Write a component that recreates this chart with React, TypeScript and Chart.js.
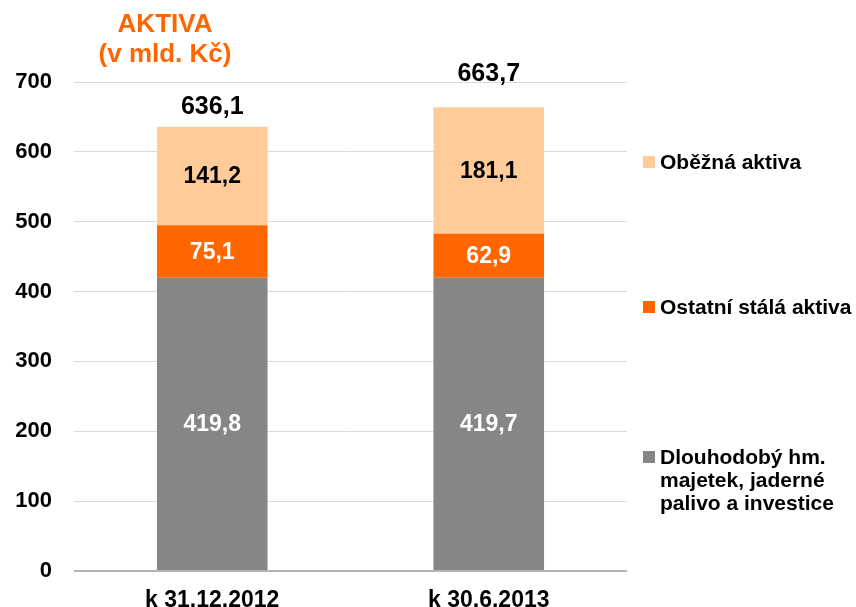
import React, { useEffect, useRef } from "react";
import { Chart, registerables } from "chart.js";

Chart.register(...registerables);

const categories = ["k 31.12.2012", "k 30.6.2013"];
const dlouhodoby = [419.8, 419.7];
const ostatni = [75.1, 62.9];
const obezna = [141.2, 181.1];
const totals = [636.1, 663.7];
const yTicks = [0, 100, 200, 300, 400, 500, 600, 700];
const seriesNames = ["Dlouhodobý hm. majetek, jaderné palivo a investice", "Ostatní stálá aktiva", "Oběžná aktiva"];
const legendLines = [["Oběžná aktiva"], ["Ostatní stálá aktiva"], ["Dlouhodobý hm.", "majetek, jaderné", "palivo a investice"]];

const C_GRAY = "#868686";
const C_ORANGE = "#FF6600";
const C_LIGHT = "#FFCC99";
const FONT = "'Liberation Sans', Arial, sans-serif";

const fmt = (v: number) => v.toFixed(1).replace(".", ",");

const labelsPlugin = {
  id: "customLabels",
  afterDatasetsDraw(chart: any) {
    const ctx = chart.ctx;
    ctx.save();
    ctx.textAlign = "center";
    ctx.textBaseline = "middle";
    ctx.font = `bold 23px ${FONT}`;
    const textColors = ["#FFFFFF", "#FFFFFF", "#000000"];
    chart.data.datasets.forEach((ds: any, di: number) => {
      const meta = chart.getDatasetMeta(di);
      meta.data.forEach((bar: any, i: number) => {
        const { x, y, base } = bar.getProps(["x", "y", "base"], true);
        ctx.fillStyle = textColors[di];
        ctx.fillText(fmt(ds.data[i]), x, (y + base) / 2 + 1);
      });
    });
    // totals
    const yScale = chart.scales.y;
    const offsets = [20, 33];
    ctx.font = `bold 25px ${FONT}`;
    ctx.fillStyle = "#000000";
    const meta0 = chart.getDatasetMeta(0);
    totals.forEach((t, i) => {
      const x = meta0.data[i].x;
      ctx.fillText(fmt(t), x, yScale.getPixelForValue(t) - offsets[i]);
    });
    ctx.restore();
  },
  afterDraw(chart: any) {
    const ctx = chart.ctx;
    ctx.save();
    // title
    ctx.textAlign = "center";
    ctx.textBaseline = "middle";
    ctx.fillStyle = "#FF6600";
    ctx.font = `bold 26px ${FONT}`;
    ctx.fillText("AKTIVA", 165, 25);
    ctx.fillText("(v mld. Kč)", 165, 55);
    // legend
    const colors = [C_LIGHT, C_ORANGE, C_GRAY];
    const ys = [162, 307, 457];
    ctx.textAlign = "left";
    ctx.font = `bold 21px ${FONT}`;
    legendLines.forEach((lines, i) => {
      ctx.fillStyle = colors[i];
      ctx.fillRect(643, ys[i] - 6, 12, 12);
      ctx.fillStyle = "#000000";
      lines.forEach((ln, k) => {
        ctx.fillText(ln, 660, ys[i] + k * 23 + 1);
      });
    });
    ctx.restore();
  },
};

export default function App() {
  const ref = useRef<HTMLCanvasElement>(null);
  useEffect(() => {
    document.body.style.margin = "0";
    const chart = new Chart(ref.current!, {
      type: "bar",
      data: {
        labels: categories,
        datasets: [
          { label: seriesNames[0], data: dlouhodoby, backgroundColor: C_GRAY },
          { label: seriesNames[1], data: ostatni, backgroundColor: C_ORANGE },
          { label: seriesNames[2], data: obezna, backgroundColor: C_LIGHT },
        ],
      },
      options: {
        responsive: false,
        animation: false,
        layout: { padding: { top: 82, right: 229, left: 0, bottom: 0 } },
        datasets: { bar: { categoryPercentage: 1, barPercentage: 0.4 } },
        plugins: { legend: { display: false }, tooltip: { enabled: false }, title: { display: false } },
        scales: {
          x: {
            stacked: true,
            grid: { display: false },
            border: { display: false },
            ticks: { color: "#000", font: { family: FONT, size: 23, weight: "bold" }, padding: 8 },
            afterFit: (s: any) => { s.height = 36; },
          },
          y: {
            stacked: true,
            min: 0,
            max: 700,
            afterBuildTicks: (s: any) => { s.ticks = yTicks.map((v) => ({ value: v })); },
            grid: {
              drawTicks: false,
              color: (c: any) => (c.tick && c.tick.value === 0 ? "#B4B4B4" : "#D9D9D9"),
              lineWidth: (c: any) => (c.tick && c.tick.value === 0 ? 2 : 1),
            },
            border: { display: false },
            ticks: { color: "#000", font: { family: FONT, size: 22, weight: "bold" }, padding: 22 },
            afterFit: (s: any) => { s.width = 74; },
          },
        },
      },
      plugins: [labelsPlugin],
    });
    return () => chart.destroy();
  }, []);
  return (
    <div style={{ position: "absolute", left: 0, top: 0, width: 856, height: 607 }}>
      <canvas ref={ref} width={856} height={607} />
    </div>
  );
}
